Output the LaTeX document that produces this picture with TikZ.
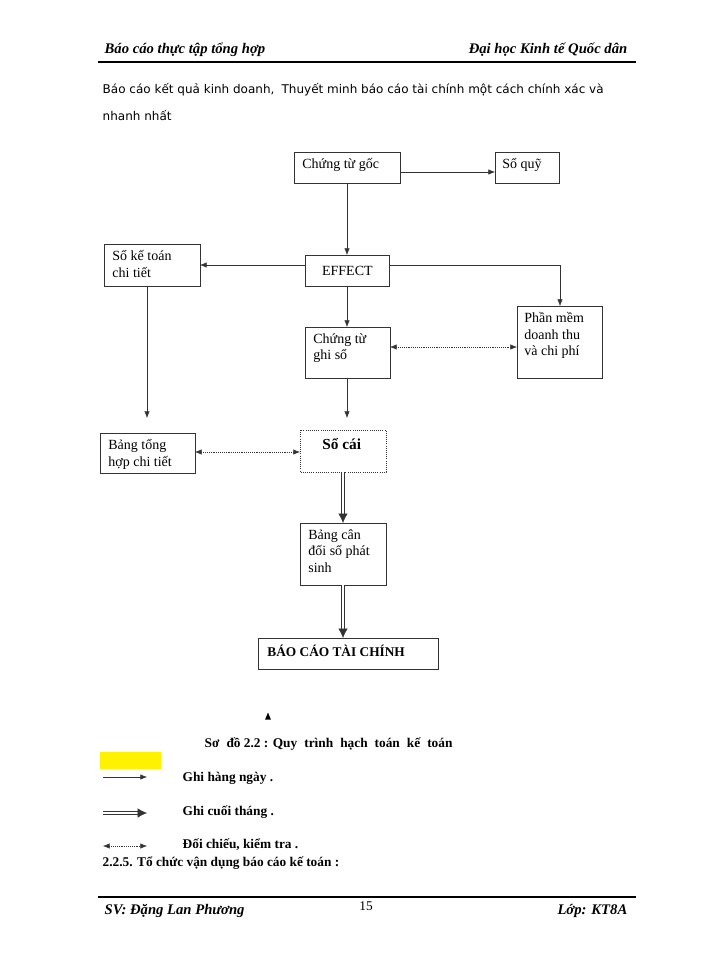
\documentclass[tikz,border=0pt]{standalone}
\usepackage{fontspec}
\setmainfont{Liberation Serif}
\newfontfamily\bodyfont{DejaVu Sans}
\usetikzlibrary{arrows.meta,positioning,shapes.geometric}
\begin{document}
\begin{tikzpicture}
[x=0.75pt,y=-0.75pt,
box/.style={draw=black!80,semithick,rectangle,align=left,anchor=north west,inner sep=0pt,font=\fontsize{10.5}{12.5}\selectfont},
daily/.style={-{Latex[length=5pt,width=4pt]},black!80},
monthly/.style={-{Latex[length=7pt,width=7pt]},double=white,double distance=1.6pt,black!80},
check/.style={{Latex[length=5pt,width=4pt]}-{Latex[length=5pt,width=4pt]},densely dotted,black!80},
hdr/.style={font=\fontsize{11}{13}\selectfont\bfseries\itshape}]
\useasboundingbox (0,0) rectangle (700,960);

% header and footer
\node[hdr,anchor=west] (hl) at (100,50) {Báo cáo thực tập tổng hợp};
\node[hdr,anchor=east] (hr) at (632,50) {Đại học Kinh tế Quốc dân};
\draw[thick] (98,62) -- (636,62);
\draw[thick] (98,897) -- (636,897);
\node[hdr,anchor=west] (fl) at (100,911) {SV: Đặng Lan Phương};
\node[font=\fontsize{10}{12}\selectfont] (fp) at (366,906) {15};
\node[hdr,anchor=east] (fr) at (632,911) {Lớp: KT8A};

% text above the diagram
\node[anchor=west,font=\bodyfont\fontsize{9}{11}\selectfont] (t1) at (98,90) {Báo cáo kết quả kinh doanh,\; Thuyết minh báo cáo tài chính một cách chính xác và};
\node[anchor=west,font=\bodyfont\fontsize{9}{11}\selectfont] (t2) at (98,116) {nhanh nhất};

% boxes
\draw[box] (294,152) rectangle (400,183);
\node[box,draw=none] (goc) at (302,158) {Chứng từ gốc};
\draw[box] (495,152) rectangle (559,183);
\node[box,draw=none] (quy) at (502,158) {Sổ quỹ};
\node[box,minimum width=63pt,minimum height=23.25pt,anchor=north west,align=center] (eff) at (305,255) {EFFECT};
\draw[box] (104,244) rectangle (200,286);
\node[box,draw=none] (ktct) at (112,250) {Sổ kế toán\\chi tiết};
\draw[box] (305,327) rectangle (390,378);
\node[box,draw=none] (ctgs) at (313,333) {Chứng từ\\ghi sổ};
\draw[box] (517,306) rectangle (602,378);
\node[box,draw=none] (pm) at (524,312) {Phần mềm\\doanh thu\\và chi phí};
\draw[box] (100,433) rectangle (195,473);
\node[box,draw=none] (bth) at (108,439) {Bảng tổng\\hợp chi tiết};
\draw[box,densely dotted] (300,430) rectangle (386,472);
\node[box,draw=none,font=\fontsize{11.5}{13}\selectfont\bfseries] (sc) at (322,438) {Sổ cái};
\draw[box] (300,523) rectangle (386,585);
\node[box,draw=none] (bcd) at (308,529) {Bảng cân\\đối số phát\\sinh};
\draw[box] (258,638) rectangle (438,669);
\node[box,draw=none,font=\fontsize{10}{12}\selectfont\bfseries] (bctc) at (267,645) {BÁO CÁO TÀI CHÍNH};

% connectors
\coordinate (gocE) at (400,172);
\coordinate (quyW) at (495,172);
\coordinate (gocS) at (347,183);
\coordinate (effN) at (347,255);
\coordinate (effS) at (347,286);
\coordinate (effW) at (305,265);
\coordinate (effE) at (389,265);
\coordinate (ktE) at (200,265);
\coordinate (ktS) at (147,286);
\coordinate (ktEnd) at (147,418);
\coordinate (pmN) at (560,306);
\coordinate (ctN) at (347,327);
\coordinate (ctS) at (347,378);
\coordinate (ctEnd) at (347,418);
\coordinate (ctE) at (390,347);
\coordinate (pmW) at (517,347);
\coordinate (bthE) at (195,452);
\coordinate (scW) at (300,452);
\coordinate (scS) at (343,472);
\coordinate (bcdN) at (343,523);
\coordinate (bcdS) at (343,585);
\coordinate (bctcN) at (343,638);
\draw[daily] (gocE) -- (quyW);
\draw[daily] (gocS) -- (effN);
\draw[daily] (effW) -- (ktE);
\draw[daily] (effE) -| (pmN);
\draw[daily] (effS) -- (ctN);
\draw[daily] (ktS) -- (ktEnd);
\draw[daily] (ctS) -- (ctEnd);
\draw[check] (ctE) -- (pmW);
\draw[check] (bthE) -- (scW);
\draw[monthly] (scS) -- (bcdN);
\draw[monthly] (bcdS) -- (bctcN);

% legend
\node[fill=black,isosceles triangle,shape border rotate=90,inner sep=1.2pt] (tri) at (268,718) {};
\node[anchor=west,font=\fontsize{10}{12}\selectfont\bfseries] (cap) at (200,744) {Sơ\; đồ 2.2 : Quy\; trình\; hạch\; toán\; kế\; toán};
\fill[yellow] (100,752) rectangle (161,769);
\coordinate (l1a) at (103,777); \coordinate (l1b) at (147,777);
\coordinate (l2a) at (103,813); \coordinate (l2b) at (147,813);
\coordinate (l3a) at (103,846); \coordinate (l3b) at (147,846);
\draw[daily] (l1a) -- (l1b);
\draw[monthly] (l2a) -- (l2b);
\draw[check] (l3a) -- (l3b);
\node[anchor=west,font=\fontsize{10}{12}\selectfont\bfseries] (g1) at (178,778) {Ghi hàng ngày .};
\node[anchor=west,font=\fontsize{10}{12}\selectfont\bfseries] (g2) at (178,812) {Ghi cuối tháng .};
\node[anchor=west,font=\fontsize{10}{12}\selectfont\bfseries] (g3) at (178,845) {Đối chiếu, kiểm tra .};
\node[anchor=west,font=\fontsize{10}{12}\selectfont\bfseries] (sec) at (98,863) {2.2.5. Tổ chức vận dụng báo cáo kế toán :};
\end{tikzpicture}
\end{document}
